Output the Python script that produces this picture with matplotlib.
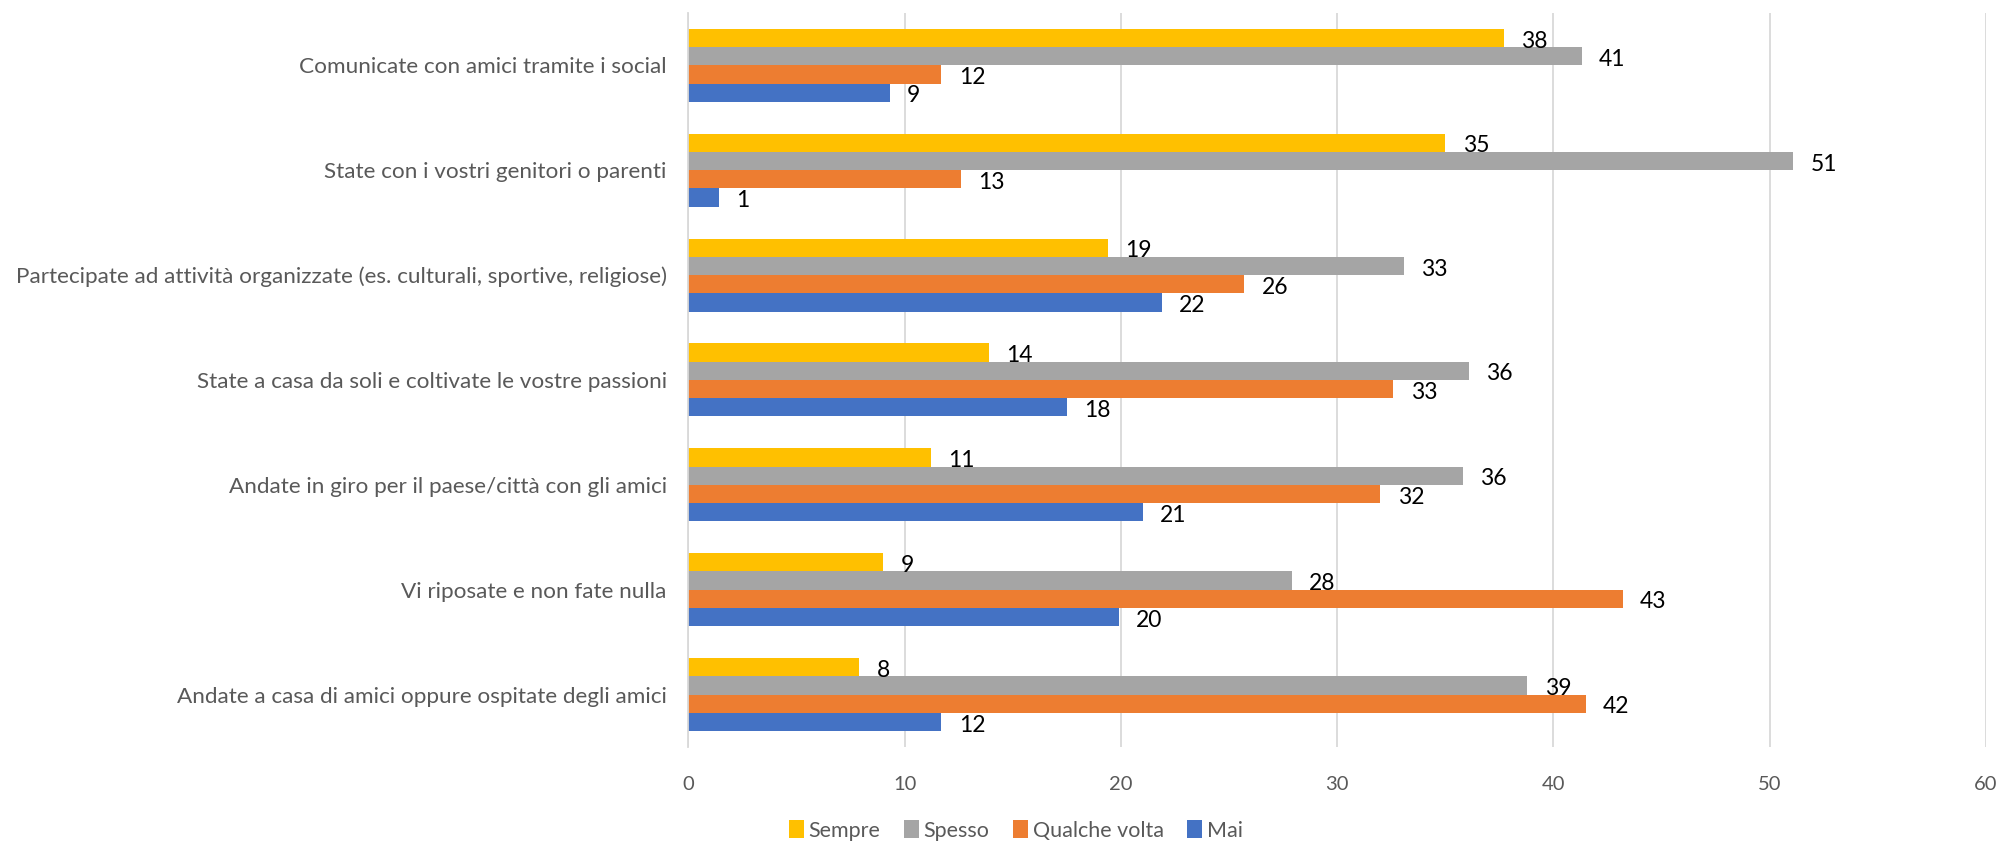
import matplotlib
matplotlib.use("Agg")
import matplotlib.pyplot as plt
from matplotlib.patches import Patch
import numpy as np

categories = [
    "Comunicate con amici tramite i social",
    "State con i vostri genitori o parenti",
    "Partecipate ad attività organizzate (es. culturali, sportive, religiose)",
    "State a casa da soli e coltivate le vostre passioni",
    "Andate in giro per il paese/città con gli amici",
    "Vi riposate e non fate nulla",
    "Andate a casa di amici oppure ospitate degli amici",
]
series_names = ["Sempre", "Spesso", "Qualche volta", "Mai"]
sempre = [37.7, 35.0, 19.4, 13.9, 11.2, 9.0, 7.9]
spesso = [41.3, 51.1, 33.1, 36.1, 35.8, 27.9, 38.8]
qualche_volta = [11.7, 12.6, 25.7, 32.6, 32.0, 43.2, 41.5]
mai = [9.3, 1.4, 21.9, 17.5, 21.0, 19.9, 11.7]
colors = ["#FFC000", "#A5A5A5", "#ED7D31", "#4472C4"]
xticks = [0, 10, 20, 30, 40, 50, 60]

plt.rcParams['font.family'] = ['Lato', 'DejaVu Sans']

fig = plt.figure(figsize=(20.04, 8.44), dpi=100)
ax = fig.add_axes([0.3435, 0.115, 0.6475, 0.8697])

n = len(categories)
pos = np.arange(n)[::-1]  # first category at top
bh = 0.174
data = [sempre, spesso, qualche_volta, mai]
offsets = [1.5, 0.5, -0.5, -1.5]
for vals, col, off in zip(data, colors, offsets):
    ys = pos + off * bh
    ax.barh(ys, vals, height=bh, color=col, zorder=3)
    for y, v in zip(ys, vals):
        ax.text(v + 0.8, y - 0.03, f"{round(v):d}", va="center", ha="left",
                fontsize=16.5, color="black", zorder=4)

ax.set_xlim(0, 60)
ax.set_ylim(-0.5, n - 0.5)
ax.set_xticks(xticks)
ax.set_xticklabels([str(t) for t in xticks], fontsize=14.5, color="#595959")
ax.set_yticks(pos)
ax.set_yticklabels(categories, fontsize=16.2, color="#595959")
ax.tick_params(axis="both", length=0)
ax.tick_params(axis="y", pad=15.5)
ax.tick_params(axis="x", pad=21)
ax.grid(axis="x", color="#D9D9D9", linewidth=1.3, zorder=0)
ax.grid(axis="y", visible=False)
for s in ["top", "right", "bottom"]:
    ax.spines[s].set_visible(False)
ax.spines["left"].set_color("#D9D9D9")
ax.spines["left"].set_linewidth(1.3)
ax.spines["left"].set_zorder(5)

handles = [Patch(facecolor=c, edgecolor="none") for c in colors]
fig.legend(handles, series_names, loc="center", bbox_to_anchor=(0.507, 0.016),
           ncol=4, frameon=False, fontsize=15.5, handlelength=0.7, handleheight=0.9,
           handletextpad=0.2, columnspacing=1.1, labelcolor="#595959")

fig.savefig("out.png", dpi=100)
